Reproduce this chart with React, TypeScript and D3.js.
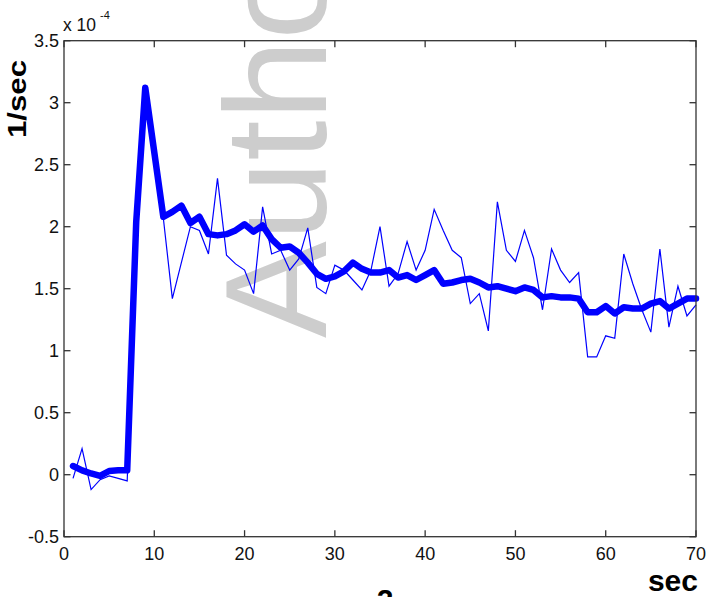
import React from "react";
import * as d3 from "d3";

// seconds (x) and rate values in units of 1e-4 (y)
const seconds: number[] = Array.from({ length: 70 }, (_, i) => i + 1);

const rawRate: number[] = [
  -0.03, 0.21, -0.12, -0.04, -0.01, -0.03, -0.05, 2.04, 3.12, 2.6,
  2.07, 1.42, 1.71, 2.0, 1.97, 1.78, 2.39, 1.77, 1.7, 1.65,
  1.46, 2.16, 1.78, 1.81, 1.65, 1.74, 1.99, 1.51, 1.46, 1.69,
  1.65, 1.57, 1.49, 1.65, 2.0, 1.52, 1.62, 1.88, 1.65, 1.81,
  2.14, 1.97, 1.81, 1.75, 1.38, 1.46, 1.16, 2.2, 1.81, 1.72,
  1.97, 1.75, 1.33, 1.82, 1.65, 1.55, 1.63, 0.95, 0.95, 1.12,
  1.1, 1.78, 1.54, 1.33, 1.15, 1.82, 1.19, 1.52, 1.28, 1.37,
];

const smoothRate: number[] = [
  0.07, 0.035, 0.01, -0.01, 0.03, 0.035, 0.035, 2.04, 3.12, 2.6,
  2.08, 2.12, 2.17, 2.03, 2.08, 1.94, 1.93, 1.94, 1.97, 2.02,
  1.96, 2.01, 1.9, 1.83, 1.84, 1.79, 1.71, 1.62, 1.58, 1.6,
  1.64, 1.71, 1.66, 1.63, 1.63, 1.65, 1.59, 1.61, 1.57, 1.61,
  1.65, 1.54, 1.55, 1.57, 1.58, 1.55, 1.51, 1.52, 1.5, 1.48,
  1.51, 1.49, 1.43, 1.44, 1.43, 1.43, 1.42, 1.31, 1.31, 1.36,
  1.3, 1.35, 1.34, 1.34, 1.38, 1.4, 1.34, 1.38, 1.42, 1.42,
];

const xTicks: number[] = [0, 10, 20, 30, 40, 50, 60, 70];
const yTicks: number[] = [-0.5, 0, 0.5, 1, 1.5, 2, 2.5, 3, 3.5];

const W = 709;
const H = 597;
const L = 64, R = 696, T = 40.7, B = 536.7;

export default function App() {
  const x = d3.scaleLinear().domain([0, 70]).range([L, R]);
  const y = d3.scaleLinear().domain([-0.5, 3.5]).range([B, T]);
  const line = d3
    .line<number>()
    .x((_, i) => x(seconds[i]))
    .y((d) => y(d));

  const font = "Arial, 'Liberation Sans', sans-serif";
  const tickLen = 6.5;
  const axisColor = "#333";

  return (
    <svg
      width={W}
      height={H}
      viewBox={`0 0 ${W} ${H}`}
      style={{ position: "absolute", left: 0, top: 0, background: "#fff" }}
    >
      <rect x={0} y={0} width={W} height={H} fill="#fff" />
      {/* watermark */}
      <text
        transform={`translate(326,338) rotate(-90)`}
        fontFamily={font}
        fontSize={145}
        fill="#cdcdcd"
      >
        Author
      </text>

      {/* data */}
      <path d={line(rawRate) ?? ""} fill="none" stroke="#0000ff" strokeWidth={1.2} />
      <path
        d={line(smoothRate) ?? ""}
        fill="none"
        stroke="#0000ff"
        strokeWidth={6.5}
        strokeLinejoin="round"
        strokeLinecap="round"
      />

      {/* box */}
      <rect x={L} y={T} width={R - L} height={B - T} fill="none" stroke={axisColor} strokeWidth={1.3} />

      {/* x ticks */}
      {xTicks.map((t) => (
        <g key={"x" + t}>
          <line x1={x(t)} x2={x(t)} y1={B} y2={B - tickLen} stroke={axisColor} strokeWidth={1.3} />
          <line x1={x(t)} x2={x(t)} y1={T} y2={T + tickLen} stroke={axisColor} strokeWidth={1.3} />
          <text
            x={x(t)}
            y={560}
            textAnchor="middle"
            fontFamily={font}
            fontSize={18}
            fill="#111"
          >
            {String(t)}
          </text>
        </g>
      ))}

      {/* y ticks */}
      {yTicks.map((t) => (
        <g key={"y" + t}>
          <line x1={L} x2={L + tickLen} y1={y(t)} y2={y(t)} stroke={axisColor} strokeWidth={1.3} />
          <line x1={R} x2={R - tickLen} y1={y(t)} y2={y(t)} stroke={axisColor} strokeWidth={1.3} />
          <text
            x={59}
            y={y(t)}
            dy="0.36em"
            textAnchor="end"
            fontFamily={font}
            fontSize={18}
            fill="#111"
          >
            {String(t)}
          </text>
        </g>
      ))}

      {/* exponent */}
      <text x={63} y={30.5} fontFamily={font} fontSize={17.5} fill="#111">
        x 10
      </text>
      <text x={100} y={19} fontFamily={font} fontSize={11} fill="#111">
        -4
      </text>

      {/* axis labels */}
      <text
        transform="translate(26,99) rotate(-90)"
        textAnchor="middle"
        fontFamily={font}
        fontWeight="bold"
        fontSize={26}
        textLength={78}
        lengthAdjust="spacingAndGlyphs"
        fill="#000"
      >
        1/sec
      </text>
      <text
        x={698}
        y={591}
        textAnchor="end"
        fontFamily={font}
        fontWeight="bold"
        fontSize={30}
        fill="#000"
      >
        sec
      </text>
      <text
        x={385}
        y={610}
        textAnchor="middle"
        fontFamily={font}
        fontWeight="bold"
        fontSize={30}
        fill="#000"
      >
        2
      </text>
    </svg>
  );
}
